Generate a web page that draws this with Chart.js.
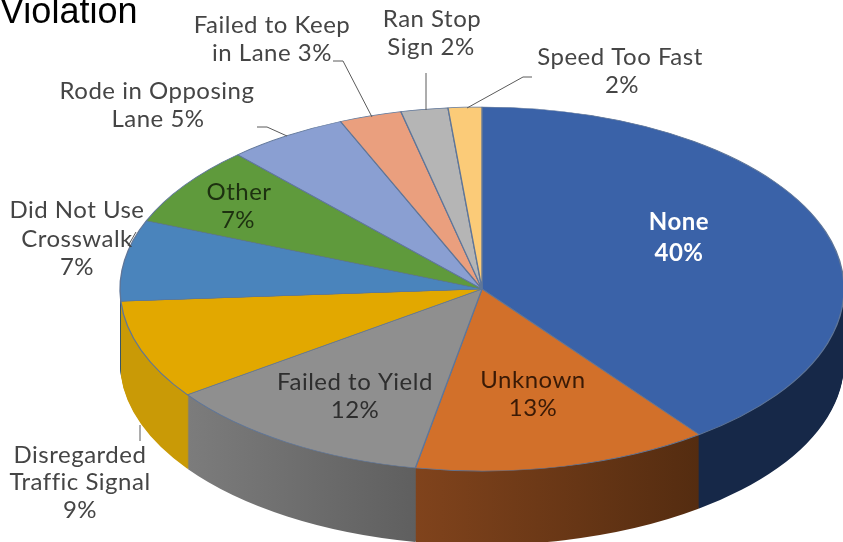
<!DOCTYPE html>
<html>
<head>
<meta charset="utf-8">
<title>Violation</title>
<script src="https://cdn.jsdelivr.net/npm/chart.js@4/dist/chart.umd.js"></script>
<style>
html, body { margin: 0; padding: 0; background: #fff; }
canvas { display: block; }
</style>
</head>
<body>
<canvas id="myChart" width="843" height="542"></canvas>
<script>
// slice values (printed labels are rounded)
const categories = ['None', 'Unknown', 'Failed to Yield', 'Disregarded Traffic Signal', 'Did Not Use Crosswalk',
    'Other', 'Rode in Opposing Lane', 'Failed to Keep in Lane', 'Ran Stop Sign', 'Speed Too Fast'];
const values = [39.8, 13.2, 12.2, 8.8, 7.2, 7.1, 5.4, 2.8, 2.1, 1.5];

const topColors = ['#3a62a8', '#d2702a', '#8f8f8f', '#e2a800', '#4a84bc', '#5f9a3c', '#8a9fd2', '#ea9f7e', '#b5b5b5', '#fbcb78'];
const wallFrom = ['#162848', '#80431c', '#7c7c7c', '#c99a06', '#2c5070', '#3a5c24', '#54617f', '#8e604c', '#6e6e6e', '#987b49'];
const wallTo = ['#162848', '#542c10', '#5f5f5f', '#c99a06', '#2c5070', '#3a5c24', '#54617f', '#8e604c', '#6e6e6e', '#987b49'];

// the flattened pie on the page
const pieX = 482, pieY = 289, pieRx = 362, pieRy = 182, pieDepth = 74;

// text: [text, x, baseline y, colour]
const grey = '#454545';
const labels = [
    ['Failed to Keep', 272, 33, grey], ['in Lane 3%', 272, 61, grey],
    ['Ran Stop', 432, 27, grey], ['Sign 2%', 431, 55, grey],
    ['Speed Too Fast', 620, 65, grey], ['2%', 622, 93, grey],
    ['Rode in Opposing', 157, 99, grey], ['Lane 5%', 158, 127, grey],
    ['Did Not Use', 77, 218, grey], ['Crosswalk', 77, 247, grey], ['7%', 77, 275, grey],
    ['Other', 239, 200, '#1d3110'], ['7%', 238, 228, '#1d3110'],
    ['Disregarded', 80, 463, grey], ['Traffic Signal', 80, 490, grey], ['9%', 80, 518, grey],
    ['Failed to Yield', 355, 390, '#2e2e2e'], ['12%', 355, 418, '#2e2e2e'],
    ['Unknown', 533, 388, '#3a1a06'], ['13%', 533, 416, '#3a1a06']
];
const boldLabels = [['None', 679, 230], ['40%', 679, 261]];
const leaders = [
    [[333, 61], [343, 61], [372, 117]],
    [[257, 127], [267, 127], [287, 136]],
    [[426, 73], [426, 110]],
    [[532, 77], [523, 77], [467, 108]],
    [[140, 425], [140, 441]],
    [[128, 246], [136, 232]]
];

function pieView(ctx, arc, drop) {
    ctx.translate(pieX, pieY + drop);
    ctx.scale(pieRx / arc.outerRadius, pieRy / arc.outerRadius);
    ctx.translate(-arc.x, -arc.y);
}

const tiltedPie = {
    id: 'tiltedPie',
    beforeDatasetsDraw(chart) {
        const ctx = chart.ctx;
        const arcs = chart.getDatasetMeta(0).data;
        // side wall: the slices again, stacked downwards in darker colours
        const wallOptions = arcs.map((arc, i) => {
            const x0 = arc.x + arc.outerRadius * Math.cos(arc.startAngle);
            const x1 = arc.x + arc.outerRadius * Math.cos(arc.endAngle);
            const grad = ctx.createLinearGradient(Math.min(x0, x1), 0, Math.max(x0, x1) + 1, 0);
            grad.addColorStop(0, wallFrom[i]);
            grad.addColorStop(1, wallTo[i]);
            return Object.assign({}, arc.options, {backgroundColor: grad, borderWidth: 0});
        });
        for (let drop = pieDepth; drop > 0; drop--) {
            arcs.forEach((arc, i) => {
                const keep = arc.options;
                ctx.save();
                pieView(ctx, arc, drop);
                arc.options = wallOptions[i];
                arc.draw(ctx);
                arc.options = keep;
                ctx.restore();
            });
        }
        ctx.save();
        pieView(ctx, arcs[0], 0);
    },
    afterDatasetsDraw(chart) {
        chart.ctx.restore();
    },
    afterDraw(chart) {
        const ctx = chart.ctx;
        ctx.save();
        ctx.strokeStyle = '#5a5a5a';
        ctx.lineWidth = 1;
        leaders.forEach(line => {
            ctx.beginPath();
            line.forEach((p, i) => i ? ctx.lineTo(p[0], p[1]) : ctx.moveTo(p[0], p[1]));
            ctx.stroke();
        });
        ctx.textAlign = 'center';
        ctx.textBaseline = 'alphabetic';
        ctx.font = '24px Lato';
        ctx.letterSpacing = '0.5px';
        labels.forEach(l => {
            ctx.fillStyle = l[3];
            ctx.fillText(l[0], l[1], l[2]);
        });
        ctx.font = 'bold 24px Lato';
        ctx.fillStyle = '#ffffff';
        boldLabels.forEach(l => ctx.fillText(l[0], l[1], l[2]));
        ctx.letterSpacing = '0px';
        ctx.textAlign = 'left';
        ctx.fillStyle = '#000000';
        ctx.font = '36px "Liberation Sans"';
        ctx.fillText('Violation', 0, 23);
        ctx.restore();
    }
};

new Chart(document.getElementById('myChart'), {
    type: 'pie',
    data: {
        labels: categories,
        datasets: [{
            data: values,
            backgroundColor: topColors,
            borderColor: '#5f7699',
            borderWidth: 1,
            clip: false
        }]
    },
    options: {
        responsive: false,
        animation: false,
        events: [],
        plugins: {
            legend: {display: false},
            tooltip: {enabled: false}
        }
    },
    plugins: [tiltedPie]
});
</script>
</body>
</html>
